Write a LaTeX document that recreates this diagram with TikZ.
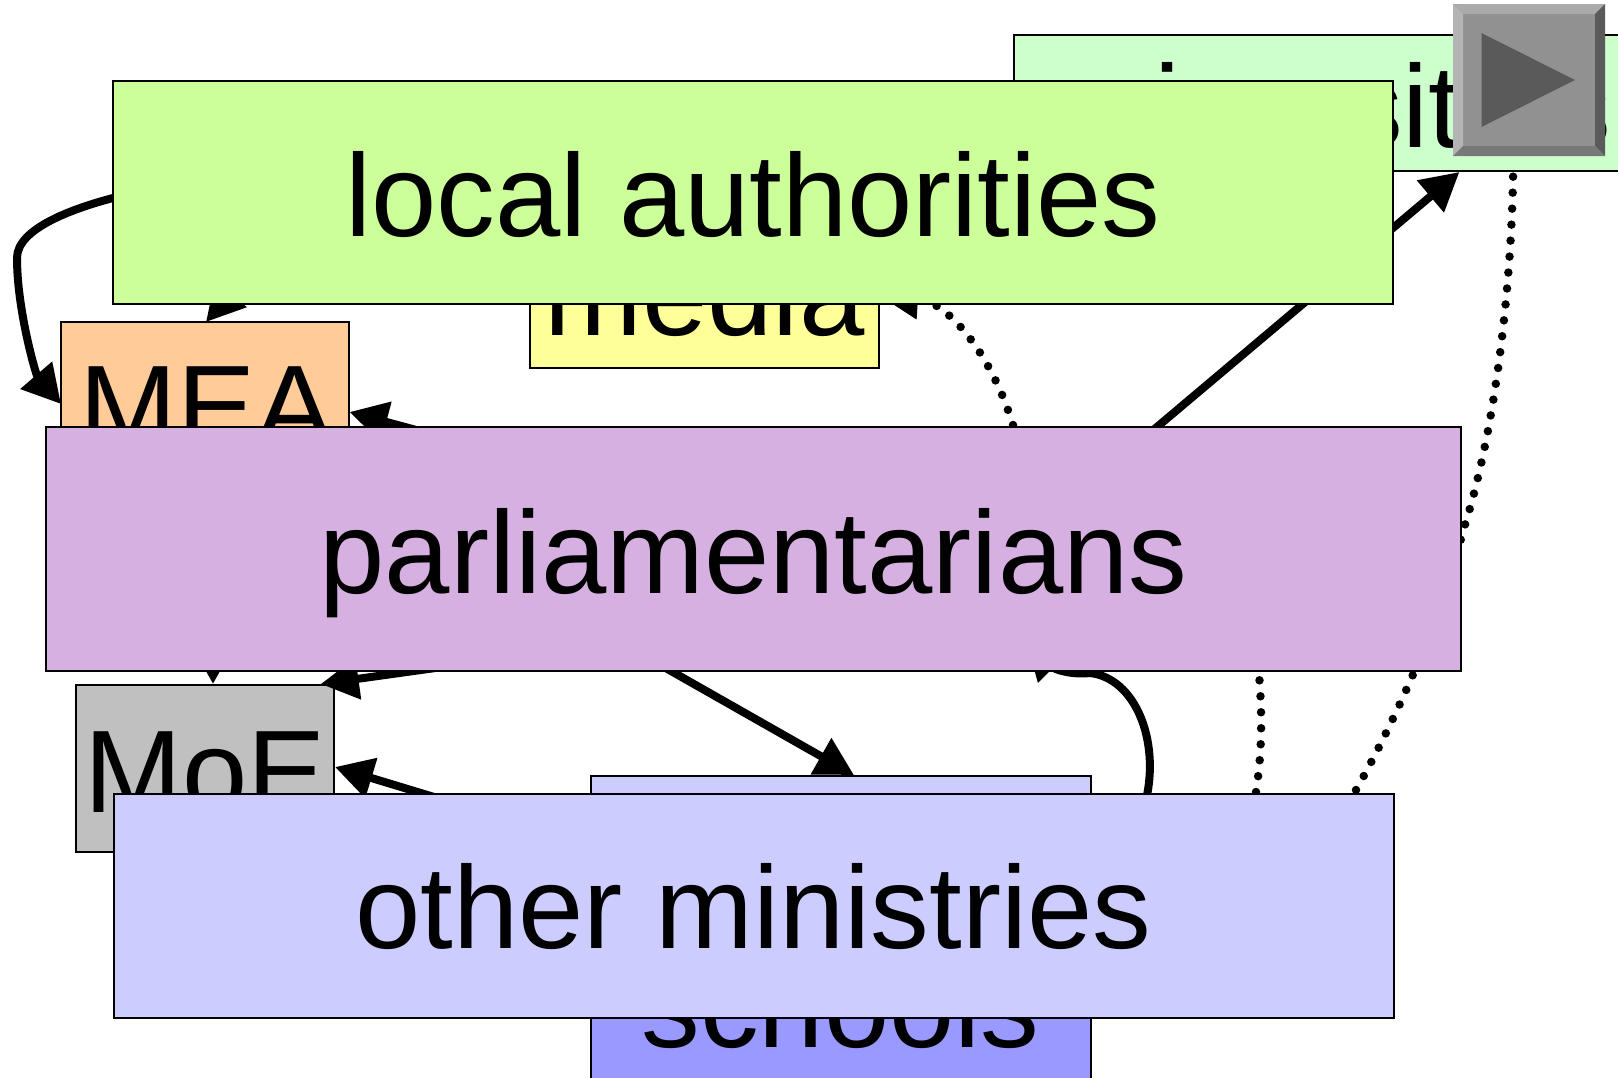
\documentclass[tikz,border=0pt]{standalone}
\usepackage{fontspec}
\setmainfont{Liberation Sans}
\usetikzlibrary{arrows.meta}
\definecolor{cUni}{HTML}{CCFFCC}
\definecolor{cLocal}{HTML}{CCFF99}
\definecolor{cMedia}{HTML}{FFFF99}
\definecolor{cMEA}{HTML}{FFCC99}
\definecolor{cParl}{HTML}{D6B0E0}
\definecolor{cMoE}{HTML}{C0C0C0}
\definecolor{cOther}{HTML}{CCCCFF}
\definecolor{cSchool}{HTML}{9999FF}
\tikzset{
  x=1pt,y=-1pt,
  boxnode/.style n args={3}{draw=black,line width=2pt,inner sep=0pt,outer sep=0pt,
    minimum width=#1pt,minimum height=#2pt,text depth=10pt,text height={\fpeval{2*(#3)+10}pt},
    font=\fontsize{117.4pt}{120pt}\selectfont,text=black},
  conn/.style={line width=8pt,draw=black,-{Triangle[length=38pt,width=40pt]}},
  dotconn/.style={conn,line cap=round,dash pattern=on 0pt off 16pt,line width=8.5pt},
}
\begin{document}
\begin{tikzpicture}
\useasboundingbox (0,0) rectangle (1618,1077);
\clip (0,0) rectangle (1618,1077);
% back boxes
\node[boxnode={349}{136}{35},fill=cMedia] (media) at (704.5,300) {media};
\node[boxnode={288}{250}{0},fill=cMEA] (mea) at (205,447) {\hspace*{3pt}MEA};
\node[boxnode={258}{167}{44},fill=cMoE] (moe) at (205,768) {MoE};
\node[boxnode={500}{200}{0},fill=cOther] (mini) at (840.5,876) {};
\node[boxnode={500}{180}{7},fill=cSchool] (schools) at (840.5,1040) {schools};
% hidden ends of connectors
\coordinate (a1) at (113,198);
\coordinate (m1) at (17,258);
\coordinate (a2) at (266,253);
\coordinate (a3) at (520,458);
\coordinate (a4) at (213,600);
\coordinate (a5) at (600,645);
\coordinate (a6) at (520,823);
\coordinate (a7) at (583,621);
\coordinate (a8) at (1100,475);
\coordinate (a9) at (1013,425);
\coordinate (t1) at (61,404);
\coordinate (t2) at (206,322);
\coordinate (t3) at (349.5,412);
\coordinate (t4) at (213,684);
\coordinate (t5) at (320.7,684);
\coordinate (t6) at (335,767);
\coordinate (t7) at (854,775);
\coordinate (t8) at (1459.4,172);
\coordinate (t9) at (880,296);
\coordinate (s10) at (1146,800);
\coordinate (t10) at (1026,641);
\coordinate (s11) at (1256,792);
\coordinate (t11) at (1250,600);
\coordinate (s12) at (1356,790);
\coordinate (m12) at (1462,534);
\coordinate (t12) at (1513,110);
% connector that ends behind the universities box
\draw[dotconn] (s12) .. controls (1404,705) and (1449,595) .. (m12) .. controls (1500,420) and (1514,250) .. (t12);
\node[boxnode={608}{136}{44.5},fill=cUni] (uni) at (1318,103) {universities};
% connectors
\draw[conn] (a1) .. controls (75,208) and (17,228) .. (m1) .. controls (17,310) and (36,375) .. (t1);
\draw[conn] (a2) -- (t2);
\draw[conn] (a3) -- (t3);
\draw[conn] (a4) -- (t4);
\draw[conn] (a5) -- (t5);
\draw[conn] (a6) -- (t6);
\draw[conn] (a7) -- (t7);
\draw[conn] (a8) -- (t8);
\draw[dotconn] (a9) .. controls (990,350) and (945,300) .. (t9);
\draw[conn] (s10) .. controls (1160,740) and (1135,678) .. (1090,673) .. controls (1072,675) and (1055,670) .. (t10);
\draw[dotconn] (s11) .. controls (1264,740) and (1262,690) .. (t11);
% front boxes
\node[boxnode={1280}{223}{43.5},fill=cLocal] (local) at (753,192.5) {local authorities};
\node[boxnode={1415}{244}{44},fill=cParl] (parl) at (753.5,549) {parliamentarians};
\node[boxnode={1280}{224}{43},fill=cOther] (other) at (753.5,905.5) {other ministries};
% button
\fill[color={rgb,255:red,145;green,145;blue,145}] (1453,4) rectangle (1605,156);
\fill[color={rgb,255:red,170;green,170;blue,170}] (1453,4) -- (1605,4) -- (1595,14) -- (1463,14) -- cycle;
\fill[color={rgb,255:red,180;green,180;blue,180}] (1453,4) -- (1463,14) -- (1463,146) -- (1453,156) -- cycle;
\fill[color={rgb,255:red,90;green,90;blue,90}] (1605,4) -- (1595,14) -- (1595,146) -- (1605,156) -- cycle;
\fill[color={rgb,255:red,120;green,120;blue,120}] (1453,156) -- (1463,146) -- (1595,146) -- (1605,156) -- cycle;
\fill[color={rgb,255:red,90;green,90;blue,90}] (1481.5,33) -- (1575,80) -- (1481.5,127) -- cycle;
\end{tikzpicture}
\end{document}
